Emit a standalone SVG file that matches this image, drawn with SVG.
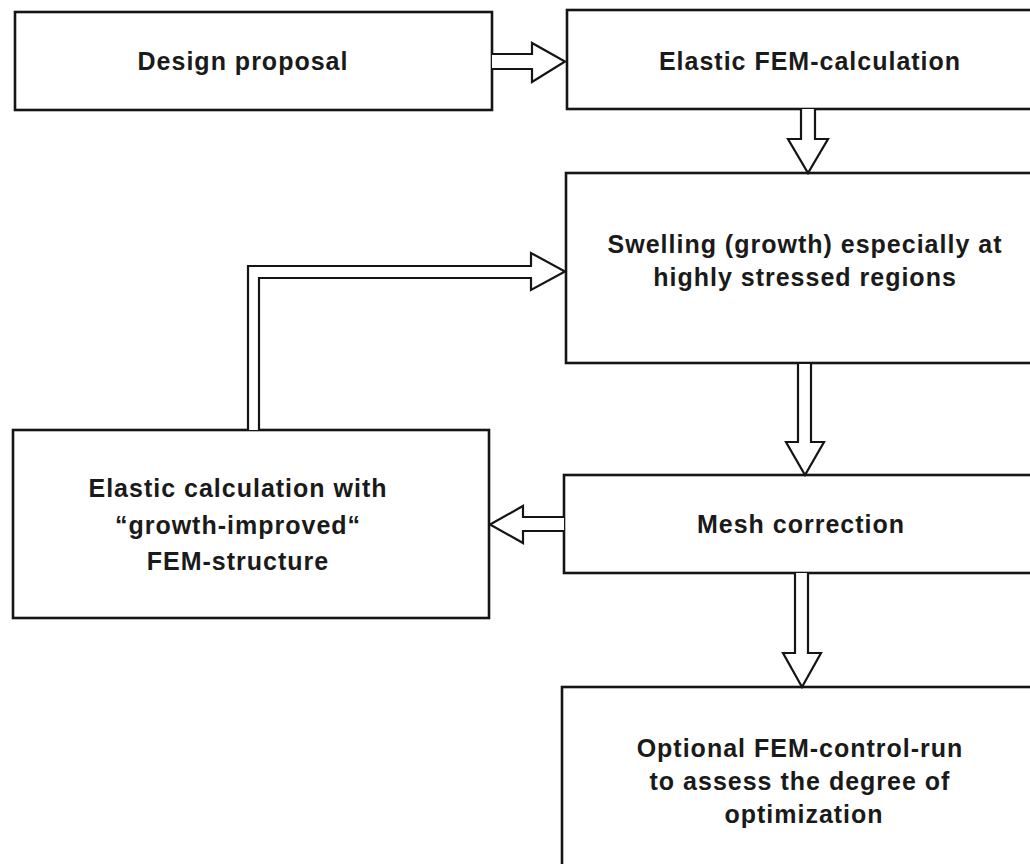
<svg xmlns="http://www.w3.org/2000/svg" width="1030" height="864" viewBox="0 0 1030 864">
<style>
.box{fill:#fff;stroke:#151515;stroke-width:2.6}
.arr{fill:#fff;stroke:#151515;stroke-width:2.2;stroke-linejoin:miter}
.t{font-family:"Liberation Sans",Arial,sans-serif;font-weight:bold;font-size:25px;letter-spacing:1px;fill:#1a1a1a;text-anchor:middle}
</style>
<rect width="1030" height="864" fill="#fff"/>
<g id="design-proposal">
<rect class="box" x="15" y="12" width="477" height="98"/>
<text class="t" x="243" y="70">Design proposal</text>
</g>
<g id="elastic-fem">
<rect class="box" x="567" y="10" width="500" height="99"/>
<text class="t" x="810" y="70">Elastic FEM-calculation</text>
</g>
<g id="swelling">
<rect class="box" x="566" y="173" width="500" height="190"/>
<text class="t" x="805" y="253">Swelling (growth) especially at</text>
<text class="t" x="805" y="286">highly stressed regions</text>
</g>
<g id="elastic-calc">
<rect class="box" x="13" y="430" width="476" height="188"/>
<text class="t" x="238" y="497">Elastic calculation with</text>
<text class="t" x="238" y="534">&#8220;growth-improved&#8220;</text>
<text class="t" x="238" y="570">FEM-structure</text>
</g>
<g id="mesh-correction">
<rect class="box" x="564" y="475" width="500" height="98"/>
<text class="t" x="801" y="533">Mesh correction</text>
</g>
<g id="optional-run">
<rect class="box" x="562" y="687" width="500" height="220"/>
<text class="t" x="800" y="757">Optional FEM-control-run</text>
<text class="t" x="800" y="790">to assess the degree of</text>
<text class="t" x="804" y="823">optimization</text>
</g>
<g id="connectors">
<path class="arr" d="M492,54 L532,54 L532,43 L565,61.5 L532,82 L532,69 L492,69"/>
<path class="arr" d="M801,109 L801,139 L788,139 L808,173 L828,139 L815,139 L815,109"/>
<path class="arr" d="M248,430 L248,266 L531,266 L531,253 L565,271.5 L531,290 L531,278 L259,278 L259,430"/>
<path class="arr" d="M798,364 L798,442 L786,442 L805,475 L824,442 L811,442 L811,364"/>
<path class="arr" d="M564,517 L523,517 L523,506 L490,524.5 L523,543 L523,531 L564,531"/>
<path class="arr" d="M795,573 L795,653 L783,653 L802,687 L821,653 L808,653 L808,573"/>
</g>
</svg>
